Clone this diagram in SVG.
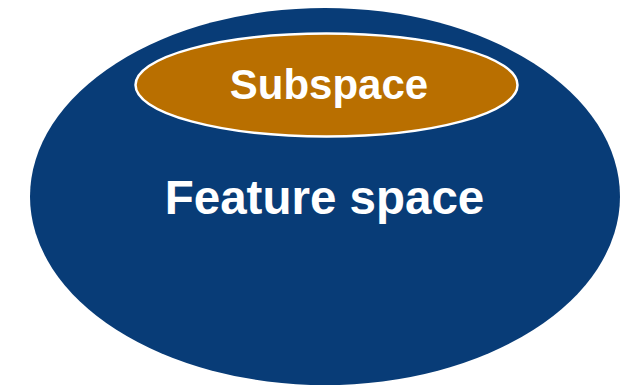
<svg xmlns="http://www.w3.org/2000/svg" width="628" height="385" viewBox="0 0 628 385">
  <style>
    .label { font-family: "Liberation Sans", Arial, sans-serif; font-weight: bold; fill: #ffffff; text-anchor: middle; }
  </style>
  <rect width="628" height="385" fill="#ffffff"/>
  <g id="feature-space">
    <ellipse cx="325" cy="196.5" rx="295" ry="188.5" fill="#083C77"/>
    <text class="label" x="324.5" y="214" font-size="47.5">Feature space</text>
  </g>
  <g id="subspace">
    <ellipse cx="326.5" cy="85" rx="191" ry="51.5" fill="#B96F00" stroke="#ffffff" stroke-width="2.5"/>
    <text class="label" x="329" y="99" font-size="42">Subspace</text>
  </g>
  <g id="connectors"/>
</svg>
